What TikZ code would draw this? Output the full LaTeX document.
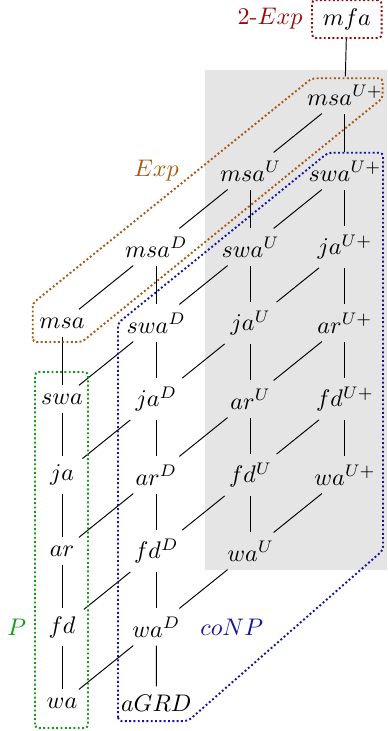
\documentclass[tikz,border=0pt]{standalone}
\usepackage{amsmath,amssymb}
\usepackage{tikz}
\usetikzlibrary{positioning,calc}

\definecolor{expred}{RGB}{150,10,10}
\definecolor{expbrown}{RGB}{165,90,20}
\definecolor{npblue}{RGB}{20,20,155}
\definecolor{pgreen}{RGB}{20,155,20}

\begin{document}
\begin{tikzpicture}[
  x=1.381cm, y=1.113cm,
  node distance=0pt,
  zone/.style={thick, densely dotted, rounded corners=1.5pt}
]
\useasboundingbox (-0.6575,-0.368) rectangle (3.4464,9.25);
\fill[gray!20] (1.516,1.75) rectangle (3.4464,8.33);

% one column per variant, shifted up by one row each time
\foreach \n [count=\j from 0] in {wa,fd,ar,ja,swa,msa}
  \node (\n) at (0,\j) {$\n$};
\foreach \n [count=\j from 1] in {wa,fd,ar,ja,swa,msa}
  \node (\n D) at (1,\j) {$\n^D$};
\foreach \n [count=\j from 2] in {wa,fd,ar,ja,swa,msa}
  \node (\n U) at (2,\j) {$\n^U$};
\foreach \n [count=\j from 3] in {wa,fd,ar,ja,swa,msa}
  \node (\n Up) at (3,\j) {$\n^{U+}$};
\node (agrd) at (1,0) {$aGRD$};
\node[draw=expred, zone, minimum width=29pt, minimum height=15.8pt] (mfa) at (3.02,9) {$mfa$};

\foreach \n in {wa,fd,ar,ja,swa,msa}
  \draw (\n) -- (\n D) (\n D) -- (\n U) (\n U) -- (\n Up);
\foreach \a/\b in {wa/fd,fd/ar,ar/ja,ja/swa,swa/msa}
  \draw (\a) -- (\b) (\a D) -- (\b D) (\a U) -- (\b U) (\a Up) -- (\b Up);
\draw (agrd) -- (waD) (msaUp) -- (mfa);

% complexity classes
\draw[zone, expbrown] (-0.31,4.75) -- (-0.31,5.26) -- (2.65,8.22) -- (3.40,8.22)
  -- (3.40,7.96) -- (0.21,4.75) -- cycle;
\draw[zone, npblue] (0.594,-0.237) -- (0.594,5.0) -- (2.82,7.24) -- (3.404,7.24)
  -- (3.404,2.01) -- (1.336,-0.237) -- cycle;
\draw[zone, pgreen] (-0.286,-0.329) rectangle (0.276,4.355);

\node[text=expred, left=0pt of mfa] (lexp2) {2-$Exp$};
\node[text=expbrown] (lexp) at (1,7) {$Exp$};
\node[text=npblue] (lconp) at (1.8,1) {$coNP$};
\node[text=pgreen] (lp) at (-0.48,1) {$P$};
\end{tikzpicture}
\end{document}
